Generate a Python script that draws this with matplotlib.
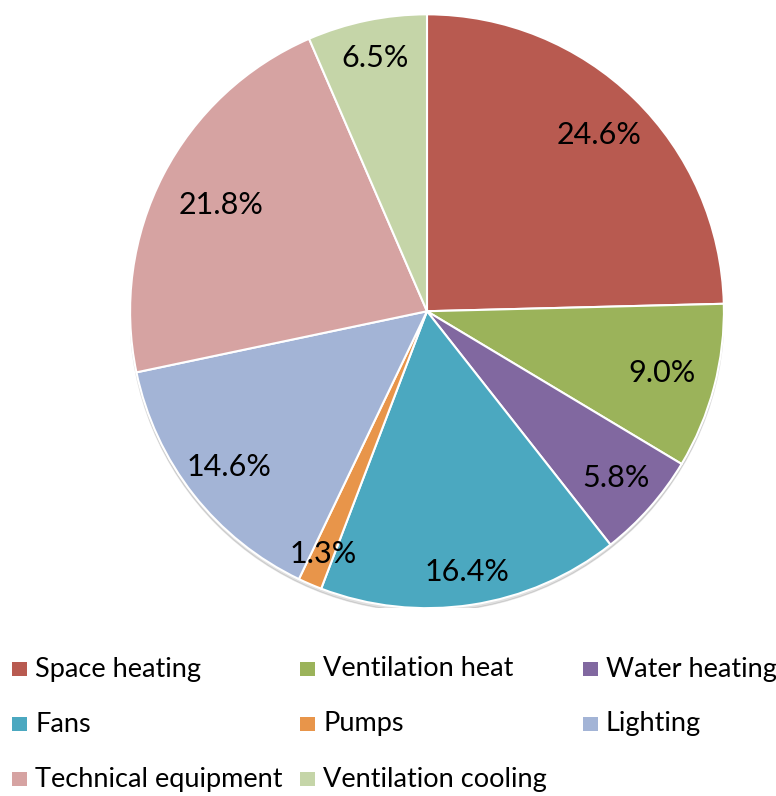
import numpy as np
import matplotlib.pyplot as plt
from matplotlib.patches import Rectangle, Circle

plt.rcParams['font.family'] = ['Lato', 'DejaVu Sans']

labels = ['Space heating', 'Ventilation heat', 'Water heating', 'Fans', 'Pumps',
          'Lighting', 'Technical equipment', 'Ventilation cooling']
values = [24.6, 9.0, 5.8, 16.4, 1.3, 14.6, 21.8, 6.5]
colors = ['#B85A50', '#9BB35A', '#8168A0', '#4BA8C0', '#E8954A',
          '#A3B4D6', '#D6A3A2', '#C5D5A8']
# distance of each percentage label from the centre (fraction of radius)
label_r = [0.83, 0.82, 0.85, 0.89, 0.89, 0.85, 0.78, 0.87]

fig = plt.figure(figsize=(7.76, 7.96), dpi=100)
ax = fig.add_axes([0.1675, 0.236, 0.7655, 0.746])

# faint shadow under the pie
ax.add_patch(Circle((0.0, -0.012), 1.0, color='#000000', alpha=0.12, zorder=0))

wedges, _ = ax.pie(values, colors=colors, startangle=90, counterclock=False,
                   radius=1.0, wedgeprops=dict(edgecolor='white', linewidth=1.5))

start = 90.0
for v, r in zip(values, label_r):
    mid = np.deg2rad(start - v * 3.6 / 2)
    ax.text(r * np.cos(mid), r * np.sin(mid), '%.1f%%' % v, ha='center', va='center',
            fontsize=22, color='black')
    start -= v * 3.6

ax.set_xlim(-1, 1)
ax.set_ylim(-1, 1)
ax.set_aspect('equal')
ax.axis('off')

# legend laid out in three columns, filled row by row
col_x = [12, 300, 583]
row_y = [669, 724, 779]
W, H = 776.0, 796.0
for i, (lab, c) in enumerate(zip(labels, colors)):
    x = col_x[i % 3]
    y = row_y[i // 3]
    fig.patches.append(Rectangle((x / W, 1 - (y + 7) / H), 15 / W, 14 / H,
                                 transform=fig.transFigure, facecolor=c,
                                 edgecolor='none'))
    fig.text((x + 23) / W, 1 - y / H, lab, ha='left', va='center', fontsize=19.5)

fig.savefig('out.png', dpi=100)
